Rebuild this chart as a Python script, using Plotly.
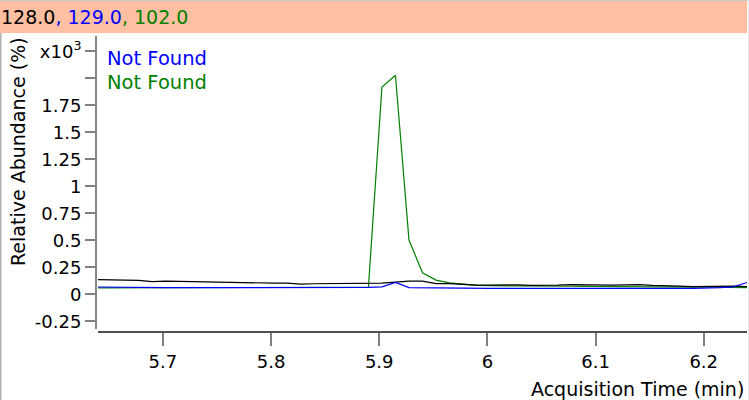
import plotly.graph_objects as go

# ---- data ----
times = [round(5.64 + 0.0125 * i, 4) for i in range(49)]

ion_128 = [0.136, 0.133, 0.131, 0.130, 0.118, 0.123, 0.120, 0.117, 0.113, 0.111,
           0.112, 0.104, 0.104, 0.104, 0.104, 0.095, 0.098, 0.099, 0.096, 0.097,
           0.099, 0.104, 0.114, 0.123, 0.123, 0.099, 0.099, 0.092, 0.085, 0.086,
           0.090, 0.088, 0.083, 0.082, 0.085, 0.090, 0.086, 0.083, 0.085, 0.088,
           0.090, 0.083, 0.077, 0.077, 0.072, 0.076, 0.077, 0.077, 0.072]

ion_129 = [0.068, 0.066, 0.062, 0.062, 0.062, 0.062, 0.062, 0.062, 0.062, 0.062,
           0.062, 0.062, 0.062, 0.062, 0.062, 0.062, 0.062, 0.062, 0.062, 0.062,
           0.064, 0.070, 0.110, 0.062, 0.060, 0.058, 0.060, 0.058, 0.057, 0.056,
           0.056, 0.057, 0.056, 0.056, 0.055, 0.056, 0.056, 0.056, 0.055, 0.056,
           0.056, 0.056, 0.055, 0.056, 0.056, 0.058, 0.062, 0.070, 0.110]

ion_102 = [0.060, 0.060, 0.060, 0.060, 0.060, 0.060, 0.060, 0.060, 0.060, 0.060,
           0.060, 0.060, 0.060, 0.060, 0.060, 0.060, 0.060, 0.060, 0.060, 0.060,
           0.066, 1.920, 2.030, 0.503, 0.200, 0.132, 0.107, 0.095, 0.083, 0.080,
           0.078, 0.077, 0.076, 0.076, 0.075, 0.075, 0.074, 0.074, 0.073, 0.072,
           0.071, 0.070, 0.069, 0.068, 0.067, 0.066, 0.065, 0.064, 0.062]

series_names = ["128.0", "129.0", "102.0"]
series_colors = ["#000000", "#0000FF", "#008000"]
legend_labels = ["Not Found", "Not Found"]

y_tickvals = [-0.25, 0, 0.25, 0.5, 0.75, 1, 1.25, 1.5, 1.75, 2.25]
y_ticktext = ["-0.25", "0", "0.25", "0.5", "0.75", "1", "1.25", "1.5", "1.75", "x10<sup>3</sup>"]
y_unlabeled_ticks = [2.0]
x_tickvals = [5.7, 5.8, 5.9, 6.0, 6.1, 6.2]
x_ticktext = ["5.7", "5.8", "5.9", "6", "6.1", "6.2"]

FONT = "DejaVu Sans, Verdana, sans-serif"

fig = go.Figure()
for vals, name, col in [(ion_102, series_names[2], series_colors[2]),
                        (ion_128, series_names[0], series_colors[0]),
                        (ion_129, series_names[1], series_colors[1])]:
    fig.add_trace(go.Scatter(x=times, y=vals, mode="lines", name=name,
                             line=dict(color=col, width=1.2), showlegend=False))

W, H = 749, 400
ml, mr, mt, mb = 96, 2, 36, 68
pw, ph = W - ml - mr, H - mt - mb

def px_x(px):
    return (px - ml) / pw

def px_y(py):
    return (H - mb - py) / ph

fig.update_layout(
    width=W, height=H,
    margin=dict(l=ml, r=mr, t=mt, b=mb),
    paper_bgcolor="white", plot_bgcolor="white",
    font=dict(family=FONT, size=18, color="black"),
    xaxis=dict(range=[5.64, 6.24], domain=[px_x(98), 1], anchor="free", position=0,
               tickvals=x_tickvals, ticktext=x_ticktext,
               showgrid=False, zeroline=False,
               showline=True, linecolor="#505050", linewidth=2,
               ticks="outside", ticklen=13, tickwidth=2, tickcolor="#808080",
               tickfont=dict(size=18)),
    yaxis=dict(range=[-0.321, 2.393], domain=[px_y(329), 1], anchor="free", position=0,
               tickvals=y_tickvals, ticktext=y_ticktext,
               showgrid=False, zeroline=False,
               showline=True, linecolor="#888888", linewidth=2,
               ticks="outside", ticklen=10, tickwidth=2, tickcolor="#808080",
               tickfont=dict(size=18),
               minor=dict(tickvals=y_unlabeled_ticks, ticks="outside", ticklen=10,
                          tickwidth=2, tickcolor="#808080", showgrid=False)),
)

# header bar
fig.add_shape(type="rect", xref="paper", yref="paper",
              x0=px_x(0), x1=px_x(747), y0=px_y(33), y1=px_y(1),
              fillcolor="#FFBFA0", line=dict(width=0), layer="below")
fig.add_shape(type="line", xref="paper", yref="paper",
              x0=px_x(0), x1=px_x(749), y0=px_y(0.5), y1=px_y(0.5),
              line=dict(color="#C8C8C8", width=1))
# frame lines
fig.add_shape(type="line", xref="paper", yref="paper",
              x0=px_x(0.5), x1=px_x(0.5), y0=px_y(33), y1=px_y(400),
              line=dict(color="#B0B0B0", width=2))
fig.add_shape(type="line", xref="paper", yref="paper",
              x0=px_x(748.5), x1=px_x(748.5), y0=px_y(0), y1=px_y(400),
              line=dict(color="#E8E8E8", width=1))

header = ("128.0<span style='color:#0000FF'>, 129.0</span>"
          "<span style='color:#008000'>, 102.0</span>")
fig.add_annotation(text=header, xref="paper", yref="paper",
                   x=px_x(-1), y=px_y(17), xanchor="left", yanchor="middle",
                   showarrow=False, font=dict(size=19, color="black", family=FONT))

# legend entries
fig.add_annotation(text=legend_labels[0], xref="paper", yref="paper",
                   x=px_x(105), y=px_y(58), xanchor="left", yanchor="middle",
                   showarrow=False, font=dict(size=19.5, color=series_colors[1]))
fig.add_annotation(text=legend_labels[1], xref="paper", yref="paper",
                   x=px_x(105), y=px_y(82), xanchor="left", yanchor="middle",
                   showarrow=False, font=dict(size=19.5, color=series_colors[2]))

# axis titles
fig.add_annotation(text="Relative Abundance (%)", xref="paper", yref="paper",
                   x=px_x(18), y=px_y(152), xanchor="center", yanchor="middle",
                   textangle=-90, showarrow=False, font=dict(size=19, color="black"))
fig.add_annotation(text="Acquisition Time (min)", xref="paper", yref="paper",
                   x=px_x(746), y=px_y(389), xanchor="right", yanchor="middle",
                   showarrow=False, font=dict(size=19, color="black"))

fig.write_html("out.html",
               config={"displayModeBar": False},
               post_script="document.body.style.margin='0';document.body.style.overflow='hidden';")
